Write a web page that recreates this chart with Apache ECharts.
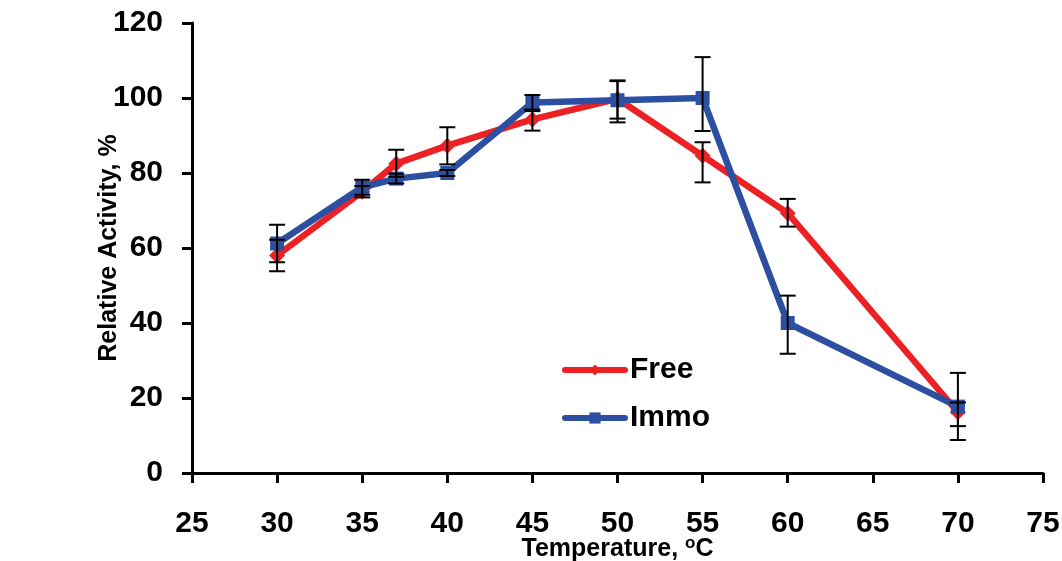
<!DOCTYPE html>
<html>
<head>
<meta charset="utf-8">
<script src="https://cdn.jsdelivr.net/npm/echarts@6/dist/echarts.min.js"></script>
<style>
  html, body { margin: 0; padding: 0; background: #fff; }
  #chart { width: 1062px; height: 561px; }
</style>
</head>
<body>
<div id="chart"></div>
<script>
// temperature (°C)
var temps = [30, 35, 37, 40, 45, 50, 55, 60, 70];

// relative activity, %
var freeVals  = [58, 75, 82.5, 87.3, 94.3, 99.8, 84.6, 69.3, 16.2];
var freeLow   = [53.8, 73.5, 79, 82.3, 91.3, 94.5, 77.5, 65.7, 12.5];
var freeHigh  = [62.2, 76.5, 86.2, 92.2, 96.5, 104.7, 88.2, 73.1, 18.8];

var immoVals  = [61.2, 76.2, 78.5, 80, 98.8, 99.4, 100, 40, 17.7];
var immoLow   = [56.2, 74.2, 77.2, 79.2, 96.9, 93.5, 91.2, 31.8, 8.8];
var immoHigh  = [66.2, 78.2, 79.8, 80.8, 100.8, 104.5, 110.9, 47.3, 26.7];

var xTicks = [25, 75, 5];   // min, max, step
var yTicks = [0, 120, 20];

var RED = '#ED2024';
var BLUE = '#2D4FA2';
var FONT = 'Liberation Sans, Arial, sans-serif';

function pairs(xs, ys) {
  var out = [];
  for (var i = 0; i < xs.length; i++) out.push([xs[i], ys[i]]);
  return out;
}

function errRows(xs, lo, hi) {
  var out = [];
  for (var i = 0; i < xs.length; i++) out.push([xs[i], lo[i], hi[i]]);
  return out;
}

// vertical error bar with caps
function renderErr(params, api) {
  var x = api.value(0);
  var top = api.coord([x, api.value(2)]);
  var bot = api.coord([x, api.value(1)]);
  var half = 8;
  var st = { stroke: '#000', lineWidth: 2 };
  return {
    type: 'group',
    children: [
      { type: 'line', shape: { x1: top[0], y1: top[1], x2: bot[0], y2: bot[1] }, style: st },
      { type: 'line', shape: { x1: top[0] - half, y1: top[1], x2: top[0] + half, y2: top[1] }, style: st },
      { type: 'line', shape: { x1: bot[0] - half, y1: bot[1], x2: bot[0] + half, y2: bot[1] }, style: st }
    ]
  };
}

var chart = echarts.init(document.getElementById('chart'), null, { renderer: 'canvas' });

var option = {
  animation: false,
  backgroundColor: '#fff',
  textStyle: { fontFamily: FONT },
  grid: { left: 192, right: 19, top: 23, bottom: 88, containLabel: false, outerBoundsMode: 'none' },
  legend: {
    orient: 'vertical',
    left: 557,
    top: 350,
    itemGap: 18,
    itemWidth: 60,
    itemHeight: 14,
    lineStyle: { width: 6, cap: 'round' },
    textStyle: { fontSize: 30, fontWeight: 'bold', color: '#000', fontFamily: FONT },
    data: ['Free', 'Immo']
  },
  xAxis: {
    type: 'value',
    min: xTicks[0],
    max: xTicks[1],
    interval: xTicks[2],
    name: 'Temperature, {sup|o}C',
    nameLocation: 'middle',
    nameMoveOverlap: false,
    nameGap: 62,
    nameTextStyle: {
      fontSize: 25, fontWeight: 'bold', color: '#000', fontFamily: FONT,
      rich: { sup: { fontSize: 17, fontWeight: 'bold', color: '#000', verticalAlign: 'top', padding: [0, 0, 12, 0] } }
    },
    axisLine: { show: true, onZero: false, lineStyle: { color: '#000', width: 3 } },
    axisTick: { show: true, inside: false, length: 10, lineStyle: { color: '#000', width: 3 } },
    axisLabel: { fontSize: 30, fontWeight: 'bold', color: '#000', margin: 36, fontFamily: FONT },
    splitLine: { show: false }
  },
  yAxis: {
    type: 'value',
    min: yTicks[0],
    max: yTicks[1],
    interval: yTicks[2],
    name: 'Relative Activity, %',
    nameLocation: 'middle',
    nameMoveOverlap: false,
    nameGap: 70,
    nameTextStyle: { fontSize: 25, fontWeight: 'bold', color: '#000', fontFamily: FONT },
    axisLine: { show: true, lineStyle: { color: '#000', width: 3 } },
    axisTick: { show: true, inside: false, length: 10, lineStyle: { color: '#000', width: 3 } },
    axisLabel: { fontSize: 30, fontWeight: 'bold', color: '#000', margin: 29, fontFamily: FONT },
    splitLine: { show: false }
  },
  series: [
    {
      name: 'Free',
      type: 'line',
      data: pairs(temps, freeVals),
      symbol: 'diamond',
      symbolSize: 16,
      itemStyle: { color: RED },
      lineStyle: { color: RED, width: 6.5 },
      z: 3
    },
    {
      name: 'Immo',
      type: 'line',
      data: pairs(temps, immoVals),
      symbol: 'rect',
      symbolSize: 14,
      itemStyle: { color: BLUE },
      lineStyle: { color: BLUE, width: 6.5 },
      z: 4
    },
    {
      name: 'freeErr',
      type: 'custom',
      renderItem: renderErr,
      data: errRows(temps, freeLow, freeHigh),
      encode: { x: 0, y: [1, 2] },
      z: 5,
      silent: true
    },
    {
      name: 'immoErr',
      type: 'custom',
      renderItem: renderErr,
      data: errRows(temps, immoLow, immoHigh),
      encode: { x: 0, y: [1, 2] },
      z: 5,
      silent: true
    }
  ]
};

chart.setOption(option);
</script>
</body>
</html>
